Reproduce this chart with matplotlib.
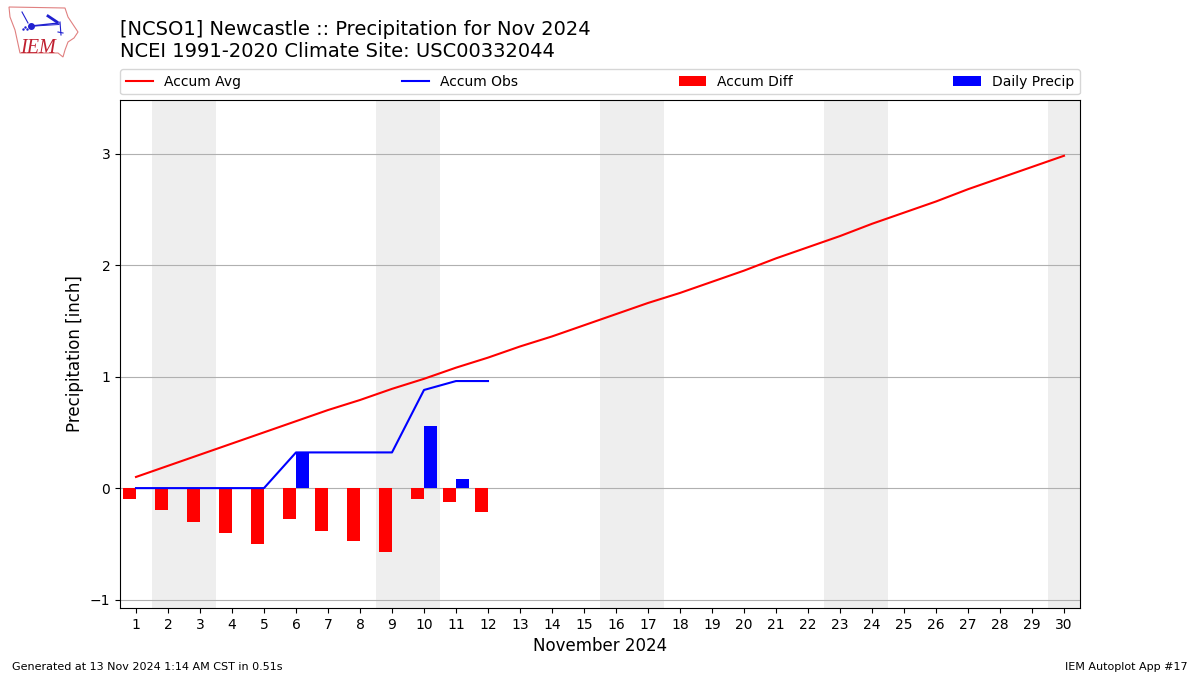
from matplotlib import pyplot as plt
from matplotlib.patches import Polygon

days = list(range(1, 31))
accum_avg = [0.10, 0.20, 0.30, 0.40, 0.50, 0.60, 0.70, 0.79, 0.89, 0.98,
             1.08, 1.17, 1.27, 1.36, 1.46, 1.56, 1.66, 1.75, 1.85, 1.95,
             2.06, 2.16, 2.26, 2.37, 2.47, 2.57, 2.68, 2.78, 2.88, 2.98]
obs_days = list(range(1, 13))
accum_obs = [0, 0, 0, 0, 0, 0.32, 0.32, 0.32, 0.32, 0.88, 0.96, 0.96]
accum_diff = [-0.10, -0.20, -0.30, -0.40, -0.50, -0.28, -0.385, -0.47, -0.57,
              -0.10, -0.125, -0.21]
daily_precip = [0, 0, 0, 0, 0, 0.32, 0, 0, 0, 0.56, 0.08, 0]
weekend_starts = [1.5, 8.5, 15.5, 22.5, 29.5]

# logo outline in pixels, roughly traced
logo_outline = [(9, 7), (65, 8), (68, 17), (78, 32), (74, 38), (68, 42),
                (65, 50), (63, 57), (58, 53), (20, 53), (15, 30), (10, 17)]

fig = plt.figure(figsize=(12, 6.75), dpi=100)
ax = fig.add_axes([120 / 1200, 1 - 608 / 675, 960 / 1200, 508 / 675])

for start in weekend_starts:
    ax.axvspan(start, start + 2, color="#eeeeee", lw=0, zorder=0)

ax.plot(days, accum_avg, color="red", label="Accum Avg", zorder=3)
ax.plot(obs_days, accum_obs, color="blue", label="Accum Obs", zorder=3)
ax.bar(obs_days, accum_diff, width=-0.4, align="edge", color="red",
       label="Accum Diff", zorder=2)
ax.bar(obs_days, daily_precip, width=0.4, align="edge", color="blue",
       label="Daily Precip", zorder=2)

ax.set_xlim(0.5, 30.5)
ax.set_ylim(-1.075, 3.48)
ax.set_xticks(days)
ax.set_yticks([-1, 0, 1, 2, 3])
ax.yaxis.grid(True, color="#b0b0b0", lw=0.8, zorder=1)
ax.set_axisbelow(True)
ax.set_xlabel("November 2024", fontsize=12, labelpad=3.5)
ax.set_ylabel("Precipitation [inch]", fontsize=12, labelpad=4)
ax.legend(loc="lower left", bbox_to_anchor=(0, 1.011, 1, 0.05), ncol=4,
          mode="expand", borderaxespad=0, fontsize=10)

fig.text(120 / 1200, 1 - 35 / 675, "[NCSO1] Newcastle :: Precipitation for Nov 2024",
         fontsize=14, va="baseline")
fig.text(120 / 1200, 1 - 57 / 675, "NCEI 1991-2020 Climate Site: USC00332044",
         fontsize=14, va="baseline")
fig.text(12 / 1200, 1 - 670 / 675, "Generated at 13 Nov 2024 1:14 AM CST in 0.51s",
         fontsize=8, va="baseline")
fig.text(1188 / 1200, 1 - 670 / 675, "IEM Autoplot App #17",
         fontsize=8, ha="right", va="baseline")

# small logo drawn in pixel coordinates
logo = fig.add_axes([0, 1 - 62 / 675, 90 / 1200, 62 / 675])
logo.set_xlim(0, 90)
logo.set_ylim(62, 0)
logo.axis("off")
logo.add_patch(Polygon(logo_outline, closed=True, fill=False,
                       edgecolor="#e08080", lw=0.8))
logo.plot([31, 59], [26, 23], color="#2020d0", lw=1)
logo.plot([35, 59], [26, 24.5], color="#2020d0", lw=0.7)
logo.plot([60, 61], [22, 35], color="#2020d0", lw=0.8)
logo.plot([58, 63], [32, 33], color="#2020d0", lw=0.8)
logo.plot([48, 57], [16, 22], color="#2020d0", lw=2)
logo.plot([22, 28], [12, 23], color="#2020d0", lw=0.8)
logo.plot([31], [26], "o", color="#2020d0", ms=4)
logo.plot([23, 25, 27], [29, 27, 29], ".", color="#2020d0", ms=1.5)
logo.text(20.5, 53, "IEM", color="#c02030", fontsize=14.5,
          family="Liberation Serif", style="italic")

fig.savefig("out.png", dpi=100)
